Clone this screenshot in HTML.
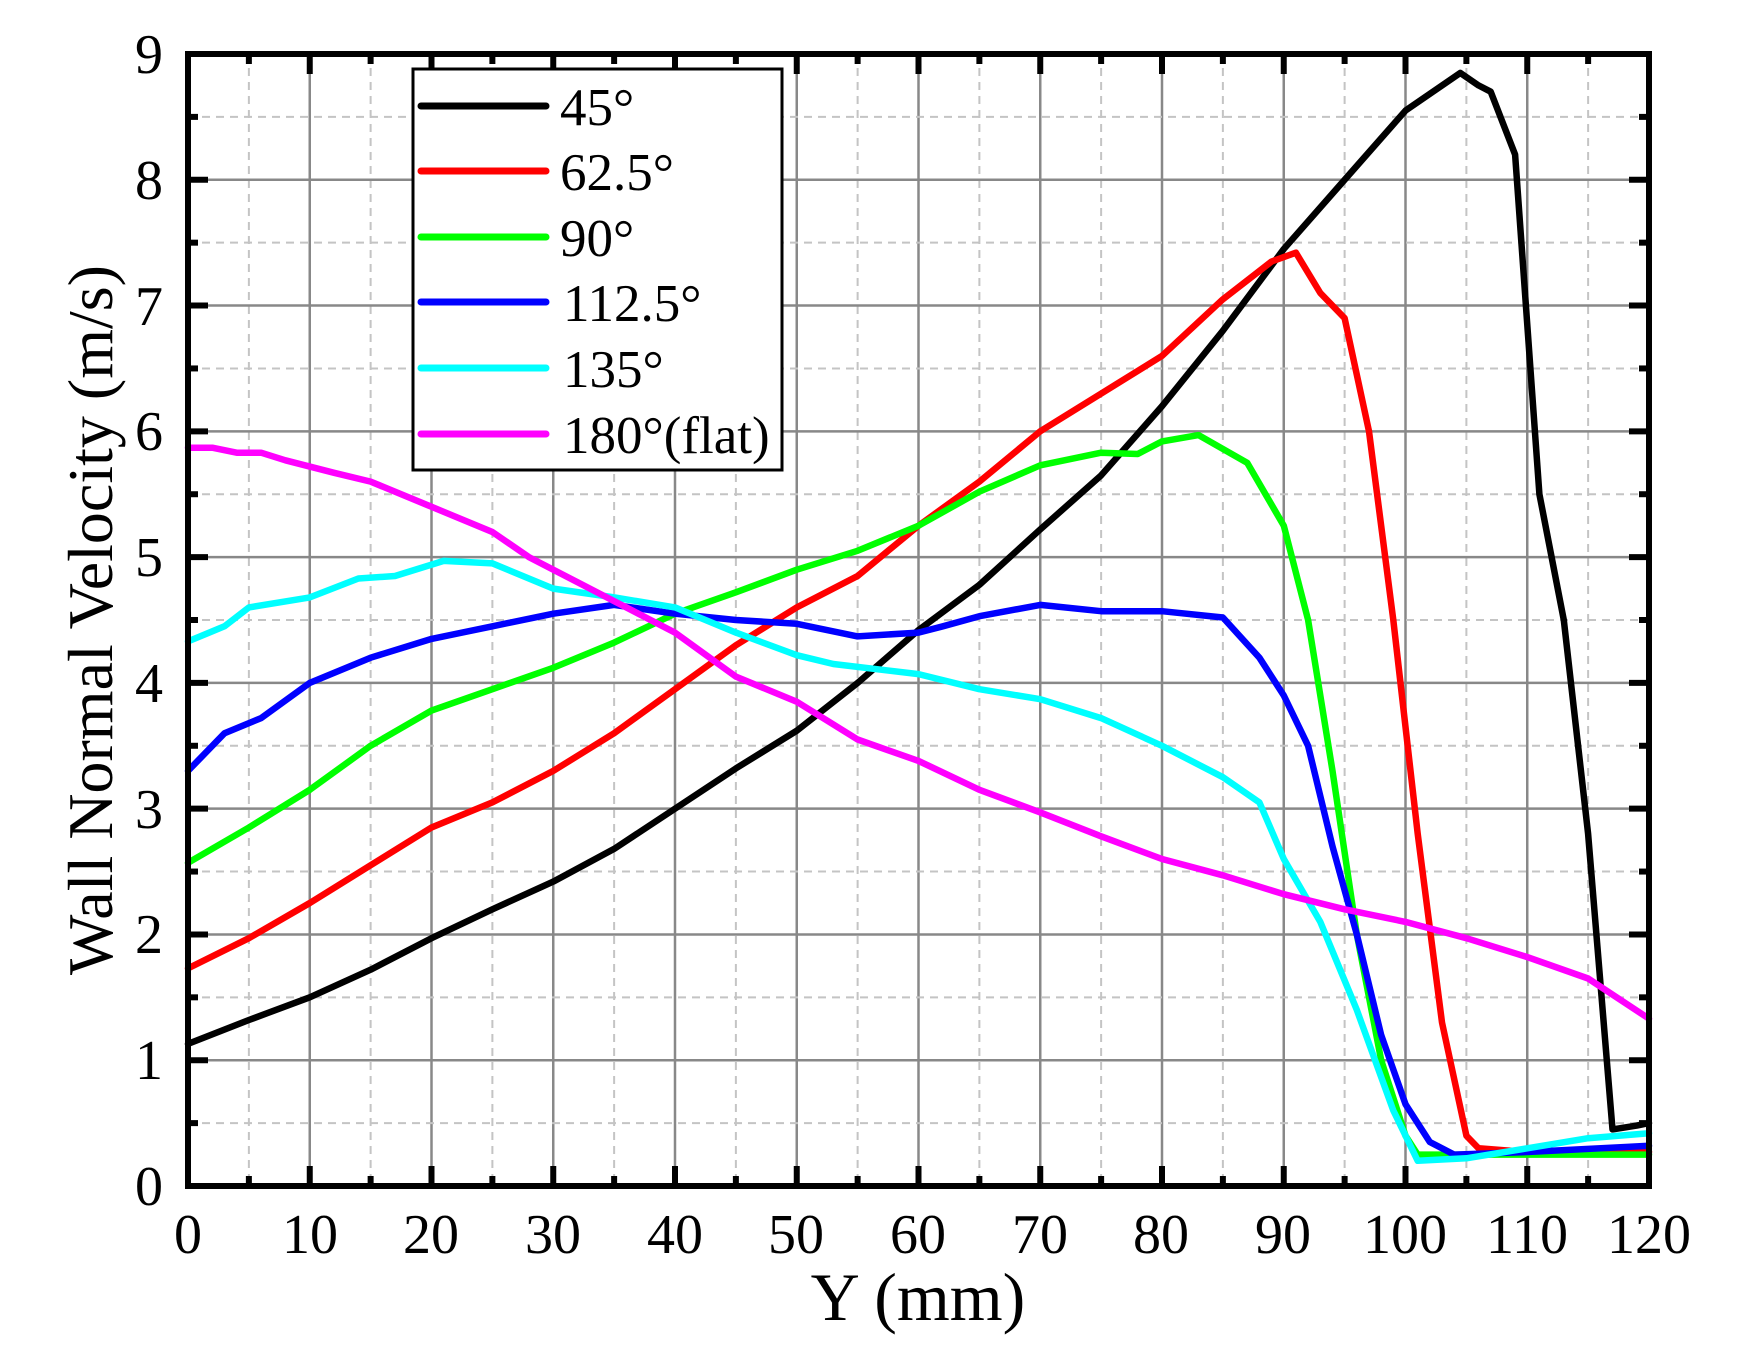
<!DOCTYPE html>
<html><head><meta charset="utf-8"><style>
html,body{margin:0;padding:0;background:#fff;}
svg{display:block;}
text{font-family:"Liberation Serif","Times New Roman",serif;fill:#000;}
</style></head><body>
<svg id="s" width="1755" height="1358" xmlns="http://www.w3.org/2000/svg" font-family="Liberation Serif, serif">
<g id="grid"></g>
<g id="series" fill="none" stroke-width="6.5" stroke-linejoin="round" stroke-linecap="round"></g>
<g id="ticks"></g>
<rect x="188" y="54" width="1461" height="1132" fill="none" stroke="#000" stroke-width="6"/>
<g font-size="56" text-anchor="middle">
<text x="188" y="1253">0</text><text x="310" y="1253">10</text><text x="431" y="1253">20</text><text x="553" y="1253">30</text><text x="675" y="1253">40</text><text x="796" y="1253">50</text><text x="918" y="1253">60</text><text x="1040" y="1253">70</text><text x="1161" y="1253">80</text><text x="1283" y="1253">90</text><text x="1405" y="1253">100</text><text x="1527" y="1253">110</text><text x="1649" y="1253">120</text>
</g>
<g font-size="56" text-anchor="end">
<text x="163" y="1205">0</text><text x="163" y="1079">1</text><text x="163" y="953">2</text><text x="163" y="828">3</text><text x="163" y="702">4</text><text x="163" y="576">5</text><text x="163" y="450">6</text><text x="163" y="325">7</text><text x="163" y="199">8</text><text x="163" y="73">9</text>
</g>
<text x="918" y="1320" font-size="68" text-anchor="middle">Y (mm)</text>
<text transform="translate(112,620) rotate(-90)" font-size="64" text-anchor="middle">Wall Normal Velocity (m/s)</text>
<rect x="413" y="69" width="369" height="401" fill="#fff" stroke="#000" stroke-width="3"/>
<g stroke-width="7" stroke-linecap="round">
<line x1="421" x2="546" y1="106" y2="106" stroke="#000"/>
<line x1="421" x2="546" y1="171" y2="171" stroke="#f00"/>
<line x1="421" x2="546" y1="237" y2="237" stroke="#0f0"/>
<line x1="421" x2="546" y1="302" y2="302" stroke="#00f"/>
<line x1="421" x2="546" y1="368" y2="368" stroke="#0ff"/>
<line x1="421" x2="546" y1="434" y2="434" stroke="#f0f"/>
</g>
<g font-size="53">
<text x="560" y="125">45°</text>
<text x="560" y="190">62.5°</text>
<text x="560" y="256">90°</text>
<text x="563" y="321">112.5°</text>
<text x="563" y="387">135°</text>
<text x="563" y="453">180°(flat)</text>
</g>
</svg>
<script>
var X=function(v){return 188+v*1461/120;},Y=function(v){return 1186-v*1132/9;};
var ns="http://www.w3.org/2000/svg";
function el(p,t,a){var e=document.createElementNS(ns,t);for(var k in a)e.setAttribute(k,a[k]);p.appendChild(e);return e;}
var g=document.getElementById("grid"),tk=document.getElementById("ticks");
for(var i=5;i<120;i+=5){var maj=i%10==0;el(g,"line",{x1:X(i),x2:X(i),y1:54,y2:1186,stroke:maj?"#888":"#c4c4c4","stroke-width":maj?2.5:2,"stroke-dasharray":maj?"":"8,6"});}
for(var j=0.5;j<9;j+=0.5){var maj=Math.abs(j-Math.round(j))<0.01;el(g,"line",{x1:188,x2:1649,y1:Y(j),y2:Y(j),stroke:maj?"#888":"#c4c4c4","stroke-width":maj?2.5:2,"stroke-dasharray":maj?"":"8,6"});}
for(var i=0;i<=120;i+=5){var L=i%10==0?20:10;el(tk,"line",{x1:X(i),x2:X(i),y1:1186,y2:1186-L,stroke:"#000","stroke-width":6});el(tk,"line",{x1:X(i),x2:X(i),y1:54,y2:54+L,stroke:"#000","stroke-width":6});}
for(var j=0;j<=9;j+=0.5){var L=Math.abs(j-Math.round(j))<0.01?20:10;el(tk,"line",{x1:188,x2:188+L,y1:Y(j),y2:Y(j),stroke:"#000","stroke-width":6});el(tk,"line",{x1:1649,x2:1649-L,y1:Y(j),y2:Y(j),stroke:"#000","stroke-width":6});}
var D={
"#f0f":[[0,5.87],[2,5.87],[4,5.83],[6,5.83],[8,5.77],[12,5.67],[15,5.6],[20,5.4],[25,5.2],[28,5.0],[32,4.8],[35,4.65],[40,4.4],[45,4.05],[50,3.85],[55,3.55],[60,3.38],[65,3.15],[70,2.97],[75,2.78],[80,2.6],[85,2.47],[90,2.32],[95,2.2],[100,2.1],[105,1.97],[110,1.82],[115,1.65],[120,1.33]],
"#0ff":[[0,4.33],[3,4.45],[5,4.6],[10,4.68],[14,4.83],[17,4.85],[21,4.97],[25,4.95],[30,4.75],[35,4.68],[40,4.6],[45,4.4],[50,4.22],[53,4.15],[60,4.07],[65,3.95],[70,3.87],[75,3.72],[80,3.5],[85,3.25],[88,3.05],[90,2.6],[93,2.1],[96,1.4],[99,0.6],[101,0.2],[105,0.22],[110,0.3],[115,0.38],[120,0.42]],
"#00f":[[0,3.3],[3,3.6],[6,3.72],[10,4.0],[15,4.2],[20,4.35],[25,4.45],[30,4.55],[35,4.62],[40,4.55],[45,4.5],[50,4.47],[55,4.37],[60,4.4],[62,4.45],[65,4.53],[70,4.62],[75,4.57],[80,4.57],[85,4.52],[88,4.2],[90,3.9],[92,3.5],[94,2.7],[96,2.0],[98,1.2],[100,0.65],[102,0.35],[104,0.25],[110,0.27],[120,0.32]],
"#0f0":[[0,2.57],[5,2.85],[10,3.15],[15,3.5],[20,3.78],[25,3.95],[30,4.12],[35,4.32],[40,4.55],[45,4.72],[50,4.9],[55,5.05],[60,5.25],[65,5.52],[70,5.73],[75,5.83],[78,5.82],[80,5.92],[83,5.97],[87,5.75],[90,5.25],[92,4.5],[94,3.3],[96,2.0],[98,1.0],[100,0.4],[101,0.25],[120,0.25]],
"#f00":[[0,1.73],[5,1.97],[10,2.25],[15,2.55],[20,2.85],[25,3.05],[30,3.3],[35,3.6],[40,3.95],[45,4.3],[50,4.6],[55,4.85],[60,5.25],[65,5.6],[70,6.0],[75,6.3],[80,6.6],[85,7.05],[89,7.35],[91,7.42],[93,7.1],[95,6.9],[97,6.0],[99,4.5],[101,2.8],[103,1.3],[105,0.4],[106,0.3],[110,0.27],[120,0.27]],
"#000":[[0,1.13],[5,1.32],[10,1.5],[15,1.72],[20,1.97],[25,2.2],[30,2.42],[35,2.68],[40,3.0],[45,3.32],[50,3.62],[55,4.0],[60,4.42],[65,4.78],[70,5.22],[75,5.65],[80,6.2],[85,6.8],[90,7.45],[95,8.0],[100,8.55],[104.5,8.85],[106,8.75],[107,8.7],[109,8.2],[111,5.5],[113,4.5],[115,2.8],[117,0.45],[119,0.48],[120,0.5]]};
var sg=document.getElementById("series");
["#000","#f00","#0f0","#00f","#0ff","#f0f"].forEach(function(c){el(sg,"polyline",{stroke:c,points:D[c].map(function(p){return X(p[0]).toFixed(1)+","+Y(p[1]).toFixed(1);}).join(" ")});});
</script>
</body></html>
